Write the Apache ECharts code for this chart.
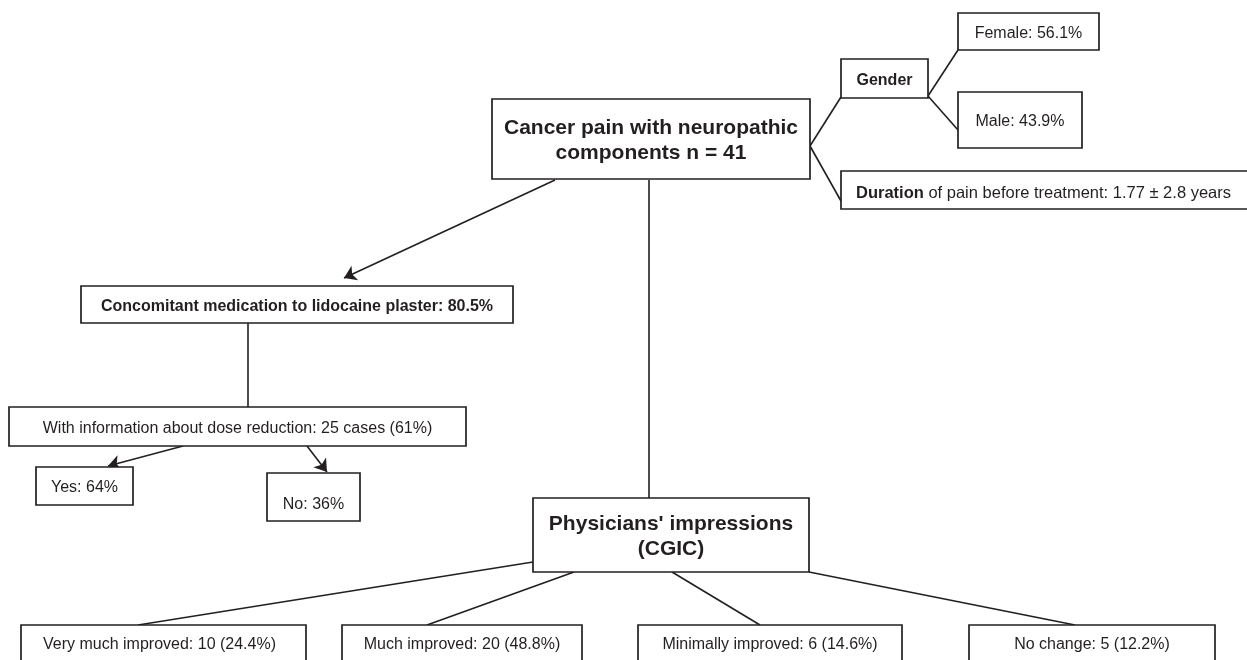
<!DOCTYPE html>
<html>
<head>
<meta charset="utf-8">
<script src="https://cdn.jsdelivr.net/npm/echarts@6/dist/echarts.min.js"></script>
<style>
  html, body { margin: 0; padding: 0; background: #fff; }
  #chart { width: 1247px; height: 660px; }
</style>
</head>
<body>
<div id="chart"></div>
<script>
// study numbers
const totalN = 41;
const genderLabels = ['Female', 'Male'];
const genderPct = [56.1, 43.9];
const durationMean = 1.77;
const durationSd = 2.8;
const concomitantPct = 80.5;
const doseInfoCases = 25;
const doseInfoPct = 61;
const doseReductionLabels = ['Yes', 'No'];
const doseReductionPct = [64, 36];
const cgicLabels = ['Very much improved', 'Much improved', 'Minimally improved', 'No change'];
const cgicCounts = [10, 20, 6, 5];
const cgicPct = [24.4, 48.8, 14.6, 12.2];

// box texts, in node order
const nodeIds = ['root', 'gender', 'female', 'male', 'duration', 'concomitant', 'dose', 'yes', 'no',
  'cgic', 'c0', 'c1', 'c2', 'c3'];
const nodeTexts = [
  'Cancer pain with neuropathic\ncomponents n = ' + totalN,
  'Gender',
  genderLabels[0] + ': ' + genderPct[0] + '%',
  genderLabels[1] + ': ' + genderPct[1] + '%',
  '{b|Duration} of pain before treatment: ' + durationMean + ' \u00b1 ' + durationSd + ' years',
  'Concomitant medication to lidocaine plaster: ' + concomitantPct + '%',
  'With information about dose reduction: ' + doseInfoCases + ' cases (' + doseInfoPct + '%)',
  doseReductionLabels[0] + ': ' + doseReductionPct[0] + '%',
  doseReductionLabels[1] + ': ' + doseReductionPct[1] + '%',
  'Physicians\' impressions\n(CGIC)'
].concat(cgicLabels.map((l, i) => l + ': ' + cgicCounts[i] + ' (' + cgicPct[i] + '%)'));

// layout: box extents [x0, x1, y0, y1] in chart units
const boxLayout = {
  root: [492, 810, 99, 179],
  gender: [841, 928, 59, 98],
  female: [958, 1099, 13, 50],
  male: [958, 1082, 92, 148],
  duration: [841, 1250, 171, 209],
  concomitant: [81, 513, 286, 323],
  dose: [9, 466, 407, 446],
  yes: [36, 133, 467, 505],
  no: [267, 360, 473, 521],
  cgic: [533, 809, 498, 572],
  c0: [21, 306, 625, 663],
  c1: [342, 582, 625, 663],
  c2: [638, 902, 625, 663],
  c3: [969, 1215, 625, 663]
};
const bigBold = ['root', 'cgic'];
const smallBold = ['gender', 'concomitant'];
// text nudges (px) where the original text sits off centre
const textShift = {
  no: [0, 6], duration: [-2, 1],
  c0: [-4, -1], c1: [0, -1], c2: [0, -1], c3: [0, -1]
};

// connectors: [from point, to point, arrow]
const connectors = [
  [[810, 146], [841, 97], false],
  [[810, 146], [841, 201], false],
  [[928, 96], [958, 50], false],
  [[928, 96], [958, 130], false],
  [[555, 180], [344, 278], true],
  [[649, 180], [649, 498], false],
  [[248, 323], [248, 407], false],
  [[183, 446], [108, 466], true],
  [[307, 446], [327, 472], true],
  [[533, 562], [138, 625], false],
  [[574, 572], [427, 625], false],
  [[672, 572], [760, 625], false],
  [[809, 572], [1075, 625], false]
];

const font = '"Liberation Sans", Arial, sans-serif';
const ink = '#231f20';

const boxData = nodeIds.map(id => boxLayout[id]);

const plainLines = connectors.filter(c => !c[2]).map(c => ({ coords: [c[0], c[1]] }));
const arrowLines = connectors.filter(c => c[2]).map(c => ({ coords: [c[0], c[1]] }));

function renderBox(params, api) {
  const i = params.dataIndex;
  const id = nodeIds[i];
  const big = bigBold.indexOf(id) >= 0;
  const bold = big || smallBold.indexOf(id) >= 0;
  const p0 = api.coord([api.value(0), api.value(2)]);
  const p1 = api.coord([api.value(1), api.value(3)]);
  const size = big ? 21 : (id === 'duration' ? 16.5 : 16);
  const shift = textShift[id] || [0, 0];
  return {
    type: 'rect',
    shape: { x: p0[0], y: p0[1], width: p1[0] - p0[0], height: p1[1] - p0[1] },
    style: { fill: '#ffffff', stroke: ink, lineWidth: 1.7 },
    textContent: {
      style: {
        text: nodeTexts[i],
        fill: ink,
        fontFamily: font,
        fontSize: size,
        fontWeight: bold ? 'bold' : 'normal',
        lineHeight: big ? 25 : 18,
        align: 'center',
        verticalAlign: 'middle',
        rich: { b: { fontWeight: 'bold', fontSize: size, fontFamily: font, fill: ink } }
      }
    },
    textConfig: { position: 'inside', offset: [shift[0], shift[1] + 2] }
  };
}

const chart = echarts.init(document.getElementById('chart'), null, { renderer: 'canvas' });
chart.setOption({
  animation: false,
  backgroundColor: '#ffffff',
  grid: { left: 0, right: 0, top: 0, bottom: 0 },
  xAxis: { type: 'value', min: 0, max: 1247, show: false },
  yAxis: { type: 'value', min: 0, max: 660, inverse: true, show: false },
  series: [
    {
      type: 'lines',
      coordinateSystem: 'cartesian2d',
      silent: true,
      z: 1,
      symbol: ['none', 'none'],
      lineStyle: { color: ink, width: 1.6, opacity: 1, curveness: 0 },
      data: plainLines
    },
    {
      type: 'lines',
      coordinateSystem: 'cartesian2d',
      silent: true,
      z: 1,
      symbol: ['none', 'arrow'],
      symbolSize: 12,
      lineStyle: { color: ink, width: 1.6, opacity: 1, curveness: 0 },
      data: arrowLines
    },
    {
      type: 'custom',
      silent: true,
      z: 2,
      clip: false,
      encode: { x: [0, 1], y: [2, 3] },
      renderItem: renderBox,
      data: boxData
    }
  ]
});
</script>
</body>
</html>
